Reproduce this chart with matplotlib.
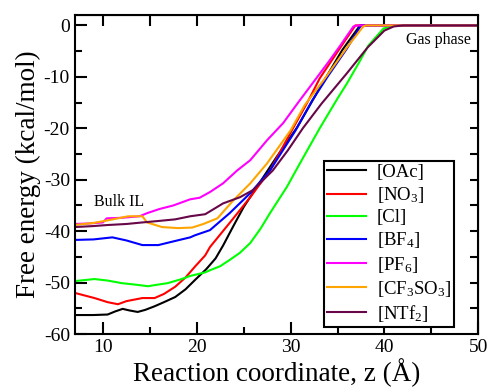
import numpy as np
import matplotlib
matplotlib.use('Agg')
import matplotlib.pyplot as plt

plt.rcParams['font.family'] = 'Liberation Serif'
plt.rcParams['mathtext.fontset'] = 'custom'
plt.rcParams['mathtext.rm'] = 'Liberation Serif'
plt.rcParams['mathtext.it'] = 'Liberation Serif:italic'
plt.rcParams['axes.unicode_minus'] = False

# free energy profiles (z in Angstrom, kcal/mol)
oac_z = [7, 9, 10.5, 11.3, 12.1, 12.8, 13.7, 14.5, 15.5, 16.5, 17.7, 18.8, 19.8,
         21, 22, 22.8, 23.9, 25, 26.4, 28.5, 30.7, 33, 35.5, 37.4, 50]
oac_g = [-56.3, -56.3, -56.2, -55.6, -55.1, -55.4, -55.7, -55.3, -54.6, -53.8, -52.8,
         -51.3, -49.5, -47.4, -45.3, -42.8, -39, -35.3, -31.4, -25.6, -19.8, -12.5, -4.8, 0, 0]

no3_z = [7, 9.1, 10.5, 11.6, 12.5, 14.2, 15.5, 16.5, 17.7, 18.8, 19.8, 20.9, 21.4,
         23.5, 25.7, 27.8, 30.1, 31.9, 33.1, 35.6, 36.9, 50]
no3_g = [-52, -53, -53.8, -54.2, -53.6, -53, -53, -52.2, -50.8, -49, -46.9, -44.7,
         -43.1, -38.4, -33.4, -28.2, -20.5, -14.6, -10.3, -3.5, 0, 0]

cl_z = [7, 9.1, 10.5, 12, 13.5, 14.8, 15.8, 16.9, 18.4, 19.3, 20.9, 21.4, 22.5, 23.5,
        24.6, 25.7, 26.8, 27.8, 29.6, 31, 33.1, 35, 36, 37.2, 38.3, 39.9, 41, 42, 50]
cl_g = [-49.7, -49.3, -49.6, -50.1, -50.4, -50.7, -50.4, -50.1, -49.3, -48.7, -48,
        -47.6, -46.8, -45.6, -44.2, -42.3, -39.5, -36.5, -31.4, -26.8, -20, -14.2,
        -11.3, -7.5, -3.9, -0.6, -0.1, 0, 0]

bf4_z = [7, 9, 11, 12.5, 14.2, 15.9, 17.7, 19.3, 19.8, 21.4, 23.5, 25.7, 27.8, 30.5,
         32.3, 34, 36, 37.5, 50]
bf4_g = [-41.7, -41.6, -41.2, -41.8, -42.7, -42.7, -41.9, -41.2, -40.8, -39.8, -36.5,
         -32.6, -28.2, -20.5, -14.6, -9.8, -4.5, 0, 0]

pf6_z = [7, 8.5, 10, 10.4, 12, 13.9, 14.7, 16, 17.5, 19.3, 20.3, 21.4, 22.8, 24.3,
         25.7, 27.5, 29.2, 30.8, 32.4, 34, 35.3, 36.7, 37.2, 50]
pf6_g = [-38.6, -38.5, -38.3, -37.5, -37.4, -37.1, -36.5, -35.7, -35, -33.8, -33.5,
         -32.4, -30.7, -28.2, -26.2, -22.3, -19, -15, -11.1, -7.2, -3.9, -0.2, 0, 0]

otf_z = [7, 9, 10.5, 12.7, 14.2, 14.7, 16.3, 18, 19.5, 20.7, 22.2, 23.9, 25.7, 27.5,
         30, 31.5, 33.5, 36, 37.7, 38, 50]
otf_g = [-38.8, -38.4, -37.9, -37.1, -37.1, -38.3, -39.2, -39.4, -39.3, -38.6, -37.5,
         -34, -30.7, -26.8, -20.4, -15.5, -10.7, -4.3, -0.3, 0, 0]

ntf2_z = [7, 9, 10.5, 12.5, 14.2, 16, 17.7, 19.3, 20.9, 22.8, 24.6, 26, 28.1, 29.7,
          31.3, 33.3, 36, 38.2, 40, 41, 42, 50]
ntf2_g = [-39.2, -39.0, -38.8, -38.6, -38.3, -38, -37.7, -37.1, -36.7, -34.6, -33.4,
          -32, -28.2, -24.3, -20, -15.2, -9.3, -4.3, -1, -0.2, 0, 0]

labels = ['[OAc]', '[NO$_3$]', '[Cl]', '[BF$_4$]', '[PF$_6$]',
          '[CF$_3$SO$_3$]', '[NTf$_2$]']
colors = ['black', '#ff0000', '#00ff00', '#0000ff', '#ff00ff', '#ffa500', '#670748']
series = [(oac_z, oac_g), (no3_z, no3_g), (cl_z, cl_g), (bf4_z, bf4_g),
          (pf6_z, pf6_g), (otf_z, otf_g), (ntf2_z, ntf2_g)]

fig = plt.figure(figsize=(4.89, 3.88), dpi=100)
ax = fig.add_axes([0.153, 0.139, 0.825, 0.822])

for (z, g), c, lab in zip(series, colors, labels):
    ax.plot(z, g, color=c, lw=1.5, label=lab)

ax.set_xlim(7, 50)
ax.set_ylim(-60, 2)
ax.set_xticks([10, 20, 30, 40, 50])
ax.set_xticks([15, 25, 35, 45], minor=True)
ax.set_yticks(np.arange(-60, 1, 10))
ax.set_yticks(np.arange(-55, 0, 10), minor=True)
ax.tick_params(which='major', direction='in', length=8.5, width=1.5, labelsize=14)
ax.tick_params(which='minor', direction='in', length=5, width=1.5)
for s in ax.spines.values():
    s.set_linewidth(1.5)

top = ax.secondary_xaxis('top')
top.set_xticks(np.arange(10, 50, 5))
top.tick_params(direction='in', length=8, width=1.5, labeltop=False)
right = ax.secondary_yaxis('right')
right.set_yticks(np.arange(-55, 0, 5))
right.tick_params(direction='in', length=6, width=1.5, labelright=False)

ax.set_xlabel('Reaction coordinate, z (Å)', fontsize=19.5, labelpad=2)
ax.set_ylabel('Free energy (kcal/mol)', fontsize=19.5, labelpad=2)

ax.text(9.0, -35.2, 'Bulk IL', fontsize=11.5)
ax.text(49.2, -1.3, 'Gas phase', fontsize=11.5, ha='right', va='top')

leg = ax.legend(loc='upper right', bbox_to_anchor=(0.928, 0.585),
                bbox_transform=fig.transFigure, fontsize=13.5, fancybox=False,
                edgecolor='black', framealpha=1, borderaxespad=0,
                handlelength=2.1, handletextpad=0.55, labelspacing=0.22,
                borderpad=0.15)
leg.get_frame().set_linewidth(1.5)

fig.savefig('out.png', dpi=100)
